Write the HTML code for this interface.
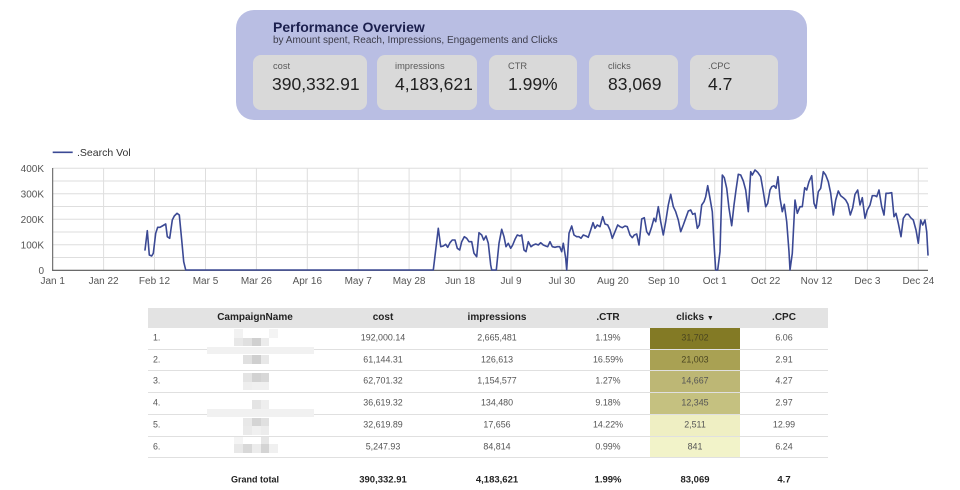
<!DOCTYPE html>
<html>
<head>
<meta charset="utf-8">
<style>
  html,body{margin:0;padding:0;background:#fff;}
  body{width:960px;height:490px;position:relative;overflow:hidden;font-family:"Liberation Sans",Arial,sans-serif;}
  .abs{position:absolute;white-space:nowrap;}
  .c{position:absolute;white-space:nowrap;transform:translate(-50%,-50%);line-height:1;}
  .l{position:absolute;white-space:nowrap;transform:translate(0,-50%);line-height:1;}
  .card{position:absolute;left:236px;top:10px;width:571px;height:110px;background:#b9bee3;border-radius:18px;}
  .kpi{position:absolute;top:55px;height:55px;background:#d9d9d9;border-radius:8px;}
  .klab{position:absolute;font-size:9.3px;color:#5a5a5a;line-height:1;}
  .kval{position:absolute;font-size:17.5px;color:#212121;line-height:1;}
  .hdr{font-size:10px;font-weight:bold;color:#222;}
  .cell{font-size:8.9px;color:#555;}
  .tot{font-size:9px;font-weight:bold;color:#222;}
  .sep{position:absolute;left:148px;width:680px;height:1px;background:#e0e0e0;}
  .blk{position:absolute;}
</style>
</head>
<body>

<!-- Top card -->
<div class="card"></div>
<div class="abs" style="left:273px;top:20px;font-size:14px;font-weight:bold;color:#1b1f4d;line-height:14px;">Performance Overview</div>
<div class="abs" style="left:273px;top:36px;font-size:10px;color:#3c3c4a;line-height:10px;">by Amount spent, Reach, Impressions, Engagements and Clicks</div>

<div class="kpi" style="left:253px;width:114px;"></div>
<div class="kpi" style="left:377px;width:100px;"></div>
<div class="kpi" style="left:489px;width:88px;"></div>
<div class="kpi" style="left:589px;width:89px;"></div>
<div class="kpi" style="left:690px;width:88px;"></div>

<div class="klab" style="left:273px;top:62px;">cost</div>
<div class="kval" style="left:272px;top:76px;">390,332.91</div>
<div class="klab" style="left:395px;top:62px;">impressions</div>
<div class="kval" style="left:395px;top:76px;">4,183,621</div>
<div class="klab" style="left:508px;top:62px;">CTR</div>
<div class="kval" style="left:508px;top:76px;">1.99%</div>
<div class="klab" style="left:608px;top:62px;">clicks</div>
<div class="kval" style="left:608px;top:76px;">83,069</div>
<div class="klab" style="left:708px;top:62px;">.CPC</div>
<div class="kval" style="left:708px;top:76px;">4.7</div>

<!-- Chart -->
<svg class="abs" style="left:0;top:0;" width="960" height="300" viewBox="0 0 960 300" xmlns="http://www.w3.org/2000/svg">
  <g stroke="#dedede" stroke-width="1">
    <line x1="52.7" y1="257.55" x2="928" y2="257.55"/>
    <line x1="52.7" y1="244.8" x2="928" y2="244.8"/>
    <line x1="52.7" y1="232.05" x2="928" y2="232.05"/>
    <line x1="52.7" y1="219.3" x2="928" y2="219.3"/>
    <line x1="52.7" y1="206.55" x2="928" y2="206.55"/>
    <line x1="52.7" y1="193.8" x2="928" y2="193.8"/>
    <line x1="52.7" y1="181.05" x2="928" y2="181.05"/>
    <line x1="52.7" y1="168.3" x2="928" y2="168.3"/>
    <line x1="103.6" y1="168.3" x2="103.6" y2="270.3"/>
    <line x1="154.5" y1="168.3" x2="154.5" y2="270.3"/>
    <line x1="205.5" y1="168.3" x2="205.5" y2="270.3"/>
    <line x1="256.4" y1="168.3" x2="256.4" y2="270.3"/>
    <line x1="307.3" y1="168.3" x2="307.3" y2="270.3"/>
    <line x1="358.2" y1="168.3" x2="358.2" y2="270.3"/>
    <line x1="409.1" y1="168.3" x2="409.1" y2="270.3"/>
    <line x1="460.1" y1="168.3" x2="460.1" y2="270.3"/>
    <line x1="511" y1="168.3" x2="511" y2="270.3"/>
    <line x1="561.9" y1="168.3" x2="561.9" y2="270.3"/>
    <line x1="612.9" y1="168.3" x2="612.9" y2="270.3"/>
    <line x1="663.7" y1="168.3" x2="663.7" y2="270.3"/>
    <line x1="714.7" y1="168.3" x2="714.7" y2="270.3"/>
    <line x1="765.6" y1="168.3" x2="765.6" y2="270.3"/>
    <line x1="816.5" y1="168.3" x2="816.5" y2="270.3"/>
    <line x1="867.4" y1="168.3" x2="867.4" y2="270.3"/>
    <line x1="918.3" y1="168.3" x2="918.3" y2="270.3"/>
  </g>
  <line x1="52.7" y1="168" x2="52.7" y2="270.8" stroke="#555" stroke-width="1"/>
  <line x1="52.2" y1="270.3" x2="928" y2="270.3" stroke="#555" stroke-width="1.2"/>

  <g font-family="Liberation Sans, Arial, sans-serif" font-size="10" fill="#555">
    <text x="44" y="171.8" text-anchor="end">400K</text>
    <text x="44" y="197.3" text-anchor="end">300K</text>
    <text x="44" y="222.8" text-anchor="end">200K</text>
    <text x="44" y="248.3" text-anchor="end">100K</text>
    <text x="44" y="273.8" text-anchor="end">0</text>
    <text x="52.7" y="284" text-anchor="middle">Jan 1</text>
    <text x="103.6" y="284" text-anchor="middle">Jan 22</text>
    <text x="154.5" y="284" text-anchor="middle">Feb 12</text>
    <text x="205.5" y="284" text-anchor="middle">Mar 5</text>
    <text x="256.4" y="284" text-anchor="middle">Mar 26</text>
    <text x="307.3" y="284" text-anchor="middle">Apr 16</text>
    <text x="358.2" y="284" text-anchor="middle">May 7</text>
    <text x="409.1" y="284" text-anchor="middle">May 28</text>
    <text x="460.1" y="284" text-anchor="middle">Jun 18</text>
    <text x="511" y="284" text-anchor="middle">Jul 9</text>
    <text x="561.9" y="284" text-anchor="middle">Jul 30</text>
    <text x="612.9" y="284" text-anchor="middle">Aug 20</text>
    <text x="663.7" y="284" text-anchor="middle">Sep 10</text>
    <text x="714.7" y="284" text-anchor="middle">Oct 1</text>
    <text x="765.6" y="284" text-anchor="middle">Oct 22</text>
    <text x="816.5" y="284" text-anchor="middle">Nov 12</text>
    <text x="867.4" y="284" text-anchor="middle">Dec 3</text>
    <text x="918.3" y="284" text-anchor="middle">Dec 24</text>
  </g>

  <line x1="52.7" y1="152.3" x2="72.7" y2="152.3" stroke="#3b4994" stroke-width="1.6"/>
  <text x="77" y="156" font-family="Liberation Sans, Arial, sans-serif" font-size="10.5" fill="#333">.Search Vol</text>

  <polyline fill="none" stroke="#3b4994" stroke-width="1.6" stroke-linejoin="round" stroke-linecap="round" points="145,250 147.3,230.7 149.3,255 151.7,256 153.3,253.3 155.7,233.3 157.7,227.3 160,227.3 162.3,226 164,225 165.7,224 167.3,236.7 169.7,238.3 172.3,220 174.3,216 177,213.3 179.3,215 181.7,240 183.7,261.7 185.7,270 433.3,270 438.3,228.3 440.7,246.7 443.3,246 445.7,244.3 447.7,247.3 450,242.7 452.3,240 455,240 457.3,248.3 459.7,250 461.7,241.7 464.3,236.7 466.7,238.3 469,241.7 471.7,241.7 474,253.3 476.7,256.7 479,232.7 481.7,235 483.7,240 486,236 488.3,243.3 490.7,265 491.7,270 496.3,270 499,243.3 501.7,229.3 504,236.7 506,246.7 508.3,243.3 510.7,248.3 512.7,245 515,239.3 517.3,235 520,236 521.7,235 524,250 526,251.7 528.3,241.7 531,246.7 533.3,245 535.7,244 538.3,245 540.7,242.7 543.3,245 545.7,246 547.7,246.7 550,241.7 552.3,246.7 555,247.3 557.3,246.7 559.7,246.7 561.7,251.7 563.3,243.3 565.7,258.3 566.7,270 569,233.3 571.7,226 574,235 576.7,236.7 579,236.7 581,238.3 583.3,235 586,236 588.3,237.3 590.7,230 593,222.7 595,228.3 597.3,225 600,226.7 602.7,216.7 605,224 607.7,225 610,230 612.3,238.3 615,231.7 617.7,225 620,226.7 622.3,227.7 625,226 627.3,226.7 630,235 632.3,237.7 634.3,235 636.7,234 639,245 641.7,219 644.3,217.7 646.7,231.7 649,235 651.7,226.7 654,218.3 655.7,221.7 658.3,206.7 660.7,221.7 663.3,235 665.7,221.7 668.3,205 670.7,194.3 673.3,206.7 675.7,211.7 678.3,220 680.7,231.7 683.3,225 685.7,218.3 688.3,211 690.7,210 692.7,214.3 695,213.3 697.3,228.3 699.3,225 701.7,205 704,201.7 705.7,196.7 707.7,185.7 710,198.3 712.3,211.7 714.3,248.3 715.7,270 717.7,270 720,251.7 722.3,175 724.3,177.7 726.7,188.3 729,208.3 731.7,225.7 734,205 736,190 738.3,174.3 740.7,175 743.3,181 745.7,190 748.3,211.7 750.7,171.7 752.3,175 755,170 757.7,172.3 760.7,176.7 763.3,191.7 765.7,206.7 767.7,203.3 770,190 771.7,186.7 774,185.7 776,188.3 778,176.7 780,198.3 782.3,211.7 784.3,204.3 786.7,221.7 789,251.7 790,270 792.3,253.3 795,200 797.3,213.3 800,206.7 802.3,206.7 804.7,187.7 806.7,190 809,181.7 811.7,175.7 814,203.3 816,208.3 818.3,191.7 820.7,188.3 823.3,171.7 825.7,175 828.3,181.7 830.7,193.3 833.3,215 835.7,200 838.3,191 840.7,195.7 843.3,197.7 845.7,200 848,204.3 850.3,215 852.7,207.7 855,194.3 857.7,190 860,205 862.3,197.7 865,218.3 867.3,210 870,205 872.3,195.7 875,195.7 876.7,196.7 879,190 881.7,206.7 884,215 886,193.3 888.3,193.3 891.7,192.7 894,216.7 896,213.3 898.3,223.3 901,236.7 903.3,218.3 906,214.3 908.3,214.3 910.7,217.7 913.3,220 916,230 918.3,243.3 920.7,220 922.7,225 925,220 926.7,231.7 928,255"/>
</svg>

<!-- Table -->
<div class="abs" style="left:148px;top:308px;width:680px;height:19.5px;background:#e3e3e3;"></div>

<!-- clicks heat cells -->
<div class="abs" style="left:650px;top:327.5px;width:90px;height:21px;background:#837a25;"></div>
<div class="abs" style="left:650px;top:348.5px;width:90px;height:21.5px;background:#a9a153;"></div>
<div class="abs" style="left:650px;top:370px;width:90px;height:22px;background:#bdb775;"></div>
<div class="abs" style="left:650px;top:392px;width:90px;height:22px;background:#c5c180;"></div>
<div class="abs" style="left:650px;top:414px;width:90px;height:22px;background:#efefc3;"></div>
<div class="abs" style="left:650px;top:436px;width:90px;height:21px;background:#f2f3c9;"></div>

<div class="sep" style="top:348.5px;"></div>
<div class="sep" style="top:370px;"></div>
<div class="sep" style="top:392px;"></div>
<div class="sep" style="top:414px;"></div>
<div class="sep" style="top:436px;"></div>
<div class="sep" style="top:457px;"></div>

<!-- blurred campaign names -->
<div class="blk" style="left:207px;top:346.7px;width:107px;height:7.6px;background:#f1f1f1;"></div>
<div class="blk" style="left:207px;top:409.3px;width:107px;height:7.4px;background:#f1f1f1;"></div>
<div class="blk" style="left:234px;top:329.3px;width:9px;height:8.4px;background:#f2f2f2;"></div>
<div class="blk" style="left:269px;top:329.3px;width:9px;height:8.4px;background:#f4f4f4;"></div>
<div class="blk" style="left:234px;top:337.7px;width:9px;height:8.5px;background:#e8e8e8;"></div>
<div class="blk" style="left:243px;top:337.7px;width:9px;height:8.5px;background:#e0e0e0;"></div>
<div class="blk" style="left:252px;top:337.7px;width:8.6px;height:8.5px;background:#d0d0d0;"></div>
<div class="blk" style="left:260.6px;top:337.7px;width:8.6px;height:8.5px;background:#ececec;"></div>
<div class="blk" style="left:243px;top:355.3px;width:9px;height:8.4px;background:#e0e0e0;"></div>
<div class="blk" style="left:252px;top:355.3px;width:8.6px;height:8.4px;background:#cfcfcf;"></div>
<div class="blk" style="left:260.6px;top:355.3px;width:8.6px;height:8.4px;background:#e8e8e8;"></div>
<div class="blk" style="left:243px;top:372.7px;width:9px;height:9px;background:#e4e4e4;"></div>
<div class="blk" style="left:252px;top:372.7px;width:8.6px;height:9px;background:#d2d2d2;"></div>
<div class="blk" style="left:260.6px;top:372.7px;width:8.6px;height:9px;background:#d8d8d8;"></div>
<div class="blk" style="left:243px;top:381.7px;width:9px;height:8.6px;background:#eeeeee;"></div>
<div class="blk" style="left:252px;top:381.7px;width:17.2px;height:8.6px;background:#f0f0f0;"></div>
<div class="blk" style="left:252px;top:400px;width:8.6px;height:8.7px;background:#e4e4e4;"></div>
<div class="blk" style="left:260.6px;top:400px;width:8.6px;height:8.7px;background:#eeeeee;"></div>
<div class="blk" style="left:243px;top:417.7px;width:9px;height:8.3px;background:#e8e8e8;"></div>
<div class="blk" style="left:252px;top:417.7px;width:8.6px;height:8.3px;background:#d4d4d4;"></div>
<div class="blk" style="left:260.6px;top:417.7px;width:8.6px;height:8.3px;background:#e0e0e0;"></div>
<div class="blk" style="left:243px;top:426px;width:9px;height:9px;background:#eaeaea;"></div>
<div class="blk" style="left:252px;top:426px;width:8.6px;height:9px;background:#f0f0f0;"></div>
<div class="blk" style="left:260.6px;top:426px;width:8.6px;height:9px;background:#ececec;"></div>
<div class="blk" style="left:234px;top:437px;width:9px;height:7.3px;background:#f4f4f4;"></div>
<div class="blk" style="left:260.6px;top:437px;width:8.6px;height:7.3px;background:#e6e6e6;"></div>
<div class="blk" style="left:234px;top:444.3px;width:9px;height:9px;background:#e8e8e8;"></div>
<div class="blk" style="left:243px;top:444.3px;width:9px;height:9px;background:#d8d8d8;"></div>
<div class="blk" style="left:252px;top:444.3px;width:8.6px;height:9px;background:#ececec;"></div>
<div class="blk" style="left:260.6px;top:444.3px;width:8.6px;height:9px;background:#d4d4d4;"></div>
<div class="blk" style="left:269.2px;top:444.3px;width:8.6px;height:9px;background:#f0f0f0;"></div>

<!-- header text -->
<div class="c hdr" style="left:255px;top:318px;">CampaignName</div>
<div class="c hdr" style="left:383px;top:318px;">cost</div>
<div class="c hdr" style="left:497px;top:318px;">impressions</div>
<div class="c hdr" style="left:608px;top:318px;">.CTR</div>
<div class="c hdr" style="left:695px;top:318px;">clicks <span style="font-size:7px;">▼</span></div>
<div class="c hdr" style="left:784px;top:318px;">.CPC</div>

<!-- rows -->
<div class="l cell" style="left:153px;top:338px;">1.</div>
<div class="c cell" style="left:383px;top:338px;">192,000.14</div>
<div class="c cell" style="left:497px;top:338px;">2,665,481</div>
<div class="c cell" style="left:608px;top:338px;">1.19%</div>
<div class="c cell" style="left:695px;top:338px;color:#4a4520;">31,702</div>
<div class="c cell" style="left:784px;top:338px;">6.06</div>

<div class="l cell" style="left:153px;top:359.5px;">2.</div>
<div class="c cell" style="left:383px;top:359.5px;">61,144.31</div>
<div class="c cell" style="left:497px;top:359.5px;">126,613</div>
<div class="c cell" style="left:608px;top:359.5px;">16.59%</div>
<div class="c cell" style="left:695px;top:359.5px;color:#4a4520;">21,003</div>
<div class="c cell" style="left:784px;top:359.5px;">2.91</div>

<div class="l cell" style="left:153px;top:381px;">3.</div>
<div class="c cell" style="left:383px;top:381px;">62,701.32</div>
<div class="c cell" style="left:497px;top:381px;">1,154,577</div>
<div class="c cell" style="left:608px;top:381px;">1.27%</div>
<div class="c cell" style="left:695px;top:381px;">14,667</div>
<div class="c cell" style="left:784px;top:381px;">4.27</div>

<div class="l cell" style="left:153px;top:403px;">4.</div>
<div class="c cell" style="left:383px;top:403px;">36,619.32</div>
<div class="c cell" style="left:497px;top:403px;">134,480</div>
<div class="c cell" style="left:608px;top:403px;">9.18%</div>
<div class="c cell" style="left:695px;top:403px;">12,345</div>
<div class="c cell" style="left:784px;top:403px;">2.97</div>

<div class="l cell" style="left:153px;top:425px;">5.</div>
<div class="c cell" style="left:383px;top:425px;">32,619.89</div>
<div class="c cell" style="left:497px;top:425px;">17,656</div>
<div class="c cell" style="left:608px;top:425px;">14.22%</div>
<div class="c cell" style="left:695px;top:425px;">2,511</div>
<div class="c cell" style="left:784px;top:425px;">12.99</div>

<div class="l cell" style="left:153px;top:446.5px;">6.</div>
<div class="c cell" style="left:383px;top:446.5px;">5,247.93</div>
<div class="c cell" style="left:497px;top:446.5px;">84,814</div>
<div class="c cell" style="left:608px;top:446.5px;">0.99%</div>
<div class="c cell" style="left:695px;top:446.5px;">841</div>
<div class="c cell" style="left:784px;top:446.5px;">6.24</div>

<!-- grand total -->
<div class="c tot" style="left:255px;top:480px;">Grand total</div>
<div class="c tot" style="left:383px;top:480px;font-size:9.5px;">390,332.91</div>
<div class="c tot" style="left:497px;top:480px;font-size:9.5px;">4,183,621</div>
<div class="c tot" style="left:608px;top:480px;font-size:9.5px;">1.99%</div>
<div class="c tot" style="left:695px;top:480px;font-size:9.5px;">83,069</div>
<div class="c tot" style="left:784px;top:480px;font-size:9.5px;">4.7</div>

</body>
</html>
